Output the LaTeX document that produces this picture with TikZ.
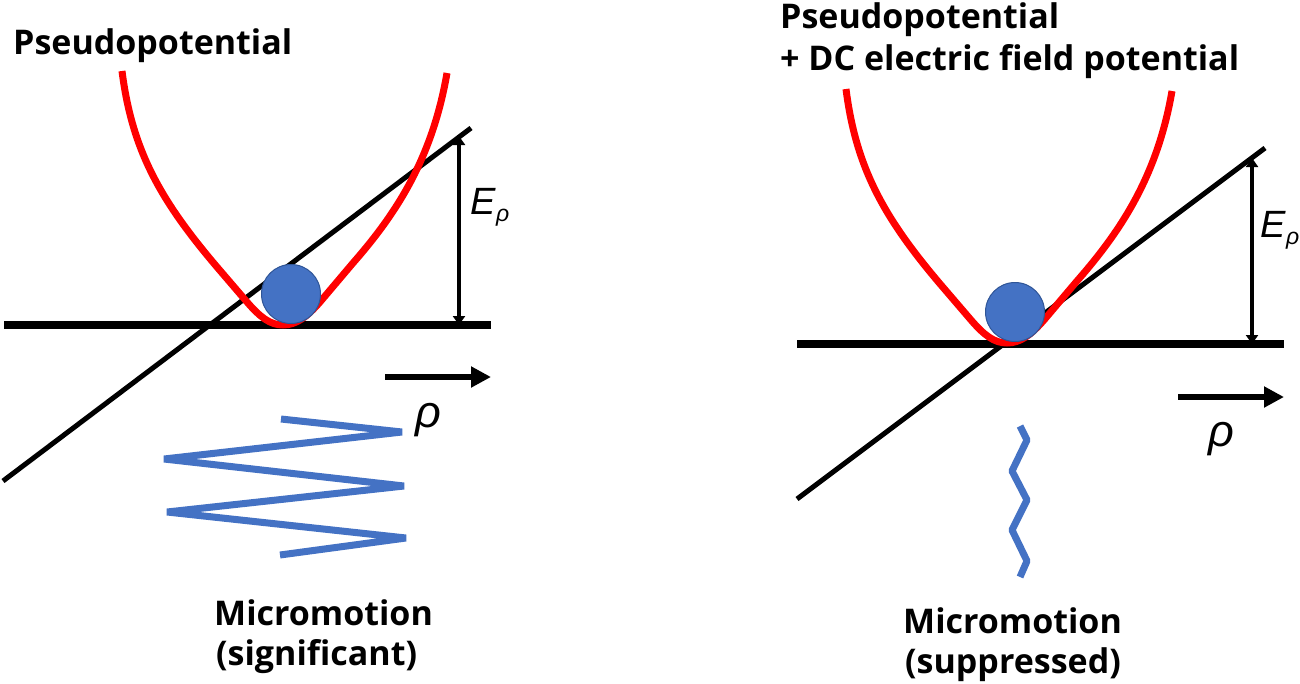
\documentclass[tikz,border=0pt]{standalone}
\usepackage{fontspec}
\setmainfont{Open Sans}
\newfontfamily\symfont{Liberation Sans}
\usetikzlibrary{arrows.meta, positioning}
\definecolor{ballblue}{HTML}{4472C4}
\definecolor{ballrim}{HTML}{2F5597}
\definecolor{wellred}{HTML}{FF0000}
\tikzset{
	caption/.style={anchor=base west, inner sep=0pt, font=\fontsize{34}{34}\selectfont\bfseries},
	symbol/.style={inner sep=0pt, font=\fontsize{38}{38}\selectfont\symfont\itshape},
	big rho/.style={inner sep=0pt, font=\fontsize{45}{45}\selectfont\symfont\itshape},
	baseline line/.style={line width=8pt},
	slope line/.style={line width=5pt},
	well/.style={line width=7pt, wellred},
	height arrow/.style={line width=3.5pt, {Triangle[length=9pt,width=12pt]}-{Triangle[length=9pt,width=12pt]}},
	axis arrow/.style={line width=6pt, -{Triangle[length=20pt,width=20pt]}},
	motion/.style={line width=7pt, ballblue, line join=bevel},
	ball/.style={circle, fill=ballblue, draw=ballrim, line width=1pt, inner sep=0pt, minimum size=59pt}
}
\begin{document}
\begin{tikzpicture}[x=1pt,y=-1pt]
	\useasboundingbox (0,0) rectangle (1300,683);

	% Left panel
	\coordinate (LB1) at (4,325);
	\coordinate (LB2) at (491,325);
	\coordinate (LS1) at (3,481);
	\coordinate (LS2) at (471,128);
	\coordinate (LH1) at (459,136);
	\coordinate (LH2) at (459,325);
	\coordinate (LA1) at (385,377);
	\coordinate (LA2) at (491,377);

	\draw[baseline line] (LB1) -- (LB2);
	\draw[slope line] (LS1) -- (LS2);
	\draw[height arrow] (LH1) -- (LH2);
	\draw[axis arrow] (LA1) -- (LA2);

	% Well and ball
	\draw[well] (122,71) .. controls (132,150) and (160,200) .. (217,267) -- (247,302) .. controls (260,317) and (270,325) .. (283,325) .. controls (296,325) and (307,317) .. (320,302) -- (353,263) .. controls (395,215) and (432,160) .. (447,73);
	\node[ball] (LBall) at (291,294) {};

	% Micromotion
	\draw[motion] (281,419) -- (402,432) -- (164,459) -- (404,486) -- (167,512) -- (406,538) -- (280,555);

	% Labels
	\node[caption] (LTitle) at (13,54) {Pseudopotential};
	\node[symbol] (LEnergy) at (490,207) {E\raisebox{-7pt}{\fontsize{23}{23}\selectfont ρ}};
	\node[big rho] (LRho) at (428,420) {ρ};
	\node[caption] (LMicro) at (214,625) {Micromotion};
	\node[caption] (LNote) at (216,665) {(significant)};

	% Right panel
	\coordinate (RB1) at (797,344);
	\coordinate (RB2) at (1284,344);
	\coordinate (RS1) at (797,499);
	\coordinate (RS2) at (1265,148);
	\coordinate (RH1) at (1252,158);
	\coordinate (RH2) at (1252,344);
	\coordinate (RA1) at (1178,397);
	\coordinate (RA2) at (1284,397);

	\draw[baseline line] (RB1) -- (RB2);
	\draw[slope line] (RS1) -- (RS2);
	\draw[height arrow] (RH1) -- (RH2);
	\draw[axis arrow] (RA1) -- (RA2);

	% Well and ball
	\draw[well] (846,89) .. controls (856,168) and (884,218) .. (941,285) -- (971,320) .. controls (984,335) and (994,343) .. (1007,343) .. controls (1020,343) and (1031,335) .. (1044,320) -- (1077,281) .. controls (1119,233) and (1157,178) .. (1172,91);
	\node[ball] (RBall) at (1015,312) {};

	% Micromotion
	\draw[motion] (1020,426) -- (1027,440) -- (1012,471) -- (1027,500) -- (1012,530) -- (1027,561) -- (1020,577);

	% Labels
	\node[caption] (RTitle) at (780,28) {Pseudopotential};
	\node[caption] (RTitleB) at (780,70) {+ DC electric field potential};
	\node[symbol] (REnergy) at (1280,230) {E\raisebox{-7pt}{\fontsize{23}{23}\selectfont ρ}};
	\node[big rho] (RRho) at (1221,439) {ρ};
	\node[caption] (RMicro) at (903,633) {Micromotion};
	\node[caption] (RNote) at (905,673) {(suppressed)};
\end{tikzpicture}
\end{document}
